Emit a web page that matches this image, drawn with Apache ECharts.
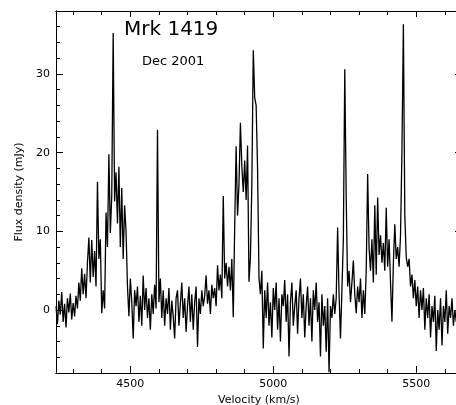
<!DOCTYPE html>
<html>
<head>
<meta charset="utf-8">
<title>Mrk 1419</title>
<script src="https://cdn.jsdelivr.net/npm/echarts@6/dist/echarts.min.js"></script>
<style>
  html, body { margin: 0; padding: 0; background: #fff; }
  #chart { width: 456px; height: 405px; }
</style>
</head>
<body>
<div id="chart"></div>
<script>
// channel grid (km/s)
const velStart = 4240
const velStep = 5
// flux density (mJy), one value per channel
const flux = [
  // 4240
  0.5, -1.8, 1.2, -0.6, 2.3, -1.5, 0.8, -2.2, 1.5, -0.3, 2.1, -1.2, 0.9, -0.8, 1.8, 0.2, 3.5, 1.2, 5.3, 2.0,
  // 4340
  4.6, 1.5, 6.0, 9.2, 3.5, 8.9, 4.2, 7.5, 3.0, 16.3, 6.5, 9.0, -0.4, 2.5, 0.2, 12.4, 8.0, 19.8, 9.8, 14.5,
  // 4440
  35.2, 13.8, 17.5, 11.0, 18.2, 8.0, 15.5, 6.5, 13.3, 10.0, 3.0, -0.8, 4.0, 1.0, -3.6, 2.5, 0.5, 3.0, -1.5, 1.8,
  // 4540
  -2.0, 4.4, 0.0, 2.8, -1.0, 1.5, -2.5, 2.0, -0.5, 3.2, 0.2, 22.9, 1.0, 4.0, -1.0, 2.5, -2.0, 1.5, -0.5, 2.8,
  // 4640
  -2.5, 1.2, -0.8, -3.6, 1.5, 2.5, -2.0, 0.8, 3.5, -1.0, 1.5, -2.8, 0.5, 3.0, -1.5, 2.0, -2.5, 1.0, 3.0, -4.7,
  // 4740
  1.5, -0.5, 2.5, 0.5, 1.8, 4.4, 0.8, 2.5, -0.5, 3.2, 1.5, 2.8, 0.5, 5.7, 2.5, 4.5, 1.5, 14.5, 4.0, 6.0,
  // 4840
  3.0, 5.5, 2.5, 6.5, -0.9, 10.6, 20.8, 12.0, 16.0, 23.8, 18.2, 15.0, 19.0, 14.0, 20.9, 3.6, 6.7, 16.0, 33.0, 27.0,
  // 4940
  26.0, 18.0, 4.0, 2.0, 5.0, -4.9, 2.5, -1.0, 3.5, -2.0, 1.0, -3.5, 2.8, 0.0, 3.5, -2.5, 1.5, -4.0, 2.0, 0.5,
  // 5040
  3.8, -1.5, 2.0, -5.9, 1.0, 3.5, -2.0, 0.5, 2.5, -3.0, 1.5, 4.0, -1.0, 2.0, -3.5, 0.5, 3.0, -2.0, 1.5, -4.0,
  // 5140
  2.5, 0.0, 3.5, -1.5, 1.0, -5.9, 2.0, -2.0, 0.5, -5.3, 1.5, -7.9, 0.5, -1.0, 2.0, -0.5, 1.5, 10.5, 2.0, -3.6,
  // 5240
  2.5, 9.0, 30.6, 14.4, 3.0, 5.0, 1.0, 3.5, 6.3, 2.0, -0.4, 3.0, 1.0, 4.0, -1.0, 2.5, -0.5, 5.0, 17.3, 7.9,
  // 5340
  5.0, 9.0, 3.5, 13.3, 4.5, 14.3, 7.0, 9.5, 6.0, 8.5, 5.0, 13.0, 5.5, 9.0, 3.5, -1.5, 6.0, 10.9, 6.5, 8.0,
  // 5440
  5.5, 9.5, 20.3, 36.3, 12.0, 6.7, 5.5, 6.5, 3.0, 4.5, 1.5, 3.8, 0.5, 3.0, -1.0, 2.5, 0.0, 2.8, -2.5, 1.5,
  // 5540
  -1.0, 2.0, -3.5, 0.5, -1.5, 1.8, -5.2, 0.0, -2.5, 1.5, -4.5, 0.5, -1.5, 2.5, -3.0, 0.5, -1.0, 1.5, -2.0, 0.0,
  // 5640
  -1.5, 1.0, -2.0, 0.5, -1.0
]
const xMajorTicks = [4500, 5000, 5500]
const xMinorTicks = [4300, 4400, 4600, 4700, 4800, 4900, 5100, 5200, 5300, 5400, 5600]
const yMajorTicks = [0, 10, 20, 30]
const yMinorTicks = [-6, -4, -2, 2, 4, 6, 8, 12, 14, 16, 18, 22, 24, 26, 28, 32, 34, 36]

const FONT = 'DejaVu Sans'
const xMin = 4240
const xMax = 5660
const yMin = -8
const yMax = 38

function tickAxis(kind, position, ticks, len, withLabels) {
  const ax = {
    type: 'value',
    position: position,
    min: kind === 'x' ? xMin : yMin,
    max: kind === 'x' ? xMax : yMax,
    axisLine: { show: true, onZero: false, lineStyle: { color: '#000', width: 1 } },
    axisTick: { show: true, inside: true, length: len, customValues: ticks, lineStyle: { color: '#000', width: 1 } },
    axisLabel: { show: false },
    splitLine: { show: false }
  }
  if (withLabels) {
    ax.axisLabel = {
      show: true,
      customValues: ticks,
      formatter: (v) => String(v),
      color: '#000',
      fontFamily: FONT,
      fontSize: 11,
      margin: kind === 'x' ? 6 : 6
    }
  }
  return ax
}

function initChart() {
  const myChart = echarts.init(document.getElementById('chart'))
  const points = flux.map((f, i) => [velStart + i * velStep, f])

  const xBottom = tickAxis('x', 'bottom', xMajorTicks, 7, true)
  xBottom.name = 'Velocity (km/s)'
  xBottom.nameLocation = 'middle'
  xBottom.nameGap = 17
  xBottom.nameTextStyle = { color: '#000', fontFamily: FONT, fontSize: 11 }

  const yLeft = tickAxis('y', 'left', yMajorTicks, 7, true)
  yLeft.name = 'Flux density (mJy)'
  yLeft.nameLocation = 'middle'
  yLeft.nameGap = 31
  yLeft.nameTextStyle = { color: '#000', fontFamily: FONT, fontSize: 11 }

  const option = {
    animation: false,
    backgroundColor: '#fff',
    title: [
      {
        text: 'Mrk 1419',
        left: 124,
        top: 20,
        padding: 0,
        textStyle: { color: '#000', fontFamily: FONT, fontSize: 20, fontWeight: 'normal' }
      },
      {
        text: 'Dec 2001',
        left: 142,
        top: 55,
        padding: 0,
        textStyle: { color: '#000', fontFamily: FONT, fontSize: 13, fontWeight: 'normal' }
      }
    ],
    // plot box runs a few px past the right edge of the picture
    grid: { left: 56, width: 406, top: 11, height: 362, outerBoundsMode: 'none', containLabel: false },
    xAxis: [
      xBottom,
      tickAxis('x', 'bottom', xMinorTicks, 4, false),
      tickAxis('x', 'top', xMajorTicks, 6, false),
      tickAxis('x', 'top', xMinorTicks, 4, false)
    ],
    yAxis: [
      yLeft,
      tickAxis('y', 'left', yMinorTicks, 4, false),
      tickAxis('y', 'right', yMajorTicks, 7, false),
      tickAxis('y', 'right', yMinorTicks, 4, false)
    ],
    series: [
      {
        type: 'line',
        data: points,
        xAxisIndex: 0,
        yAxisIndex: 0,
        showSymbol: false,
        symbol: 'none',
        lineStyle: { color: '#000', width: 1.3 }
      }
    ]
  }
  myChart.setOption(option)
}

initChart()
</script>
</body>
</html>
